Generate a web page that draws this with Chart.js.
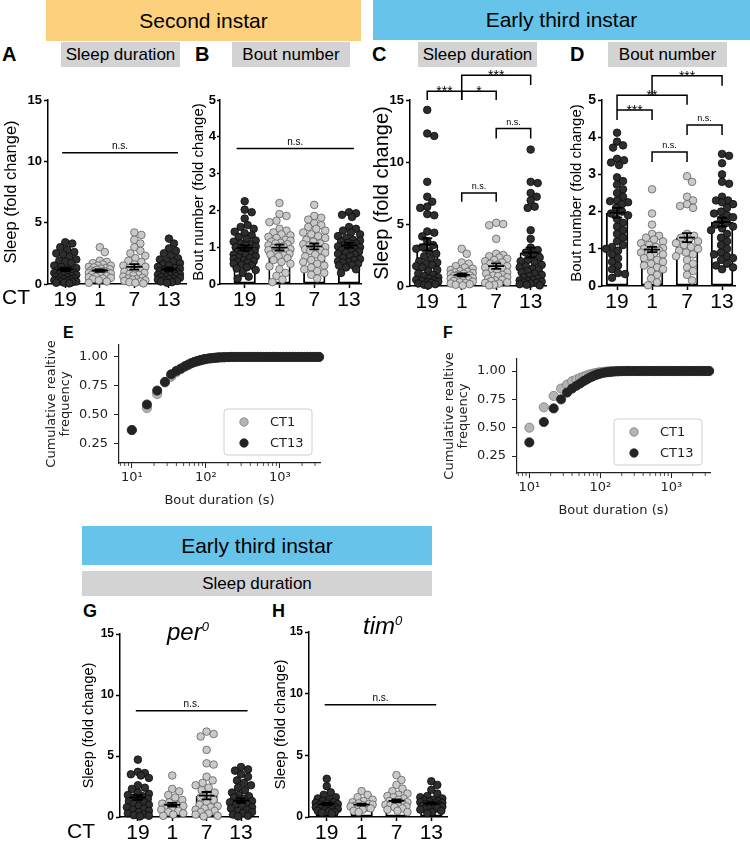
<!DOCTYPE html>
<html>
<head>
<meta charset="utf-8">
<script src="https://cdn.jsdelivr.net/npm/chart.js@4/dist/chart.umd.min.js"></script>
<style>
body { margin: 0; width: 750px; height: 843px; position: relative; background: #fff; overflow: hidden;
       font-family: "Liberation Sans", Arial, sans-serif; color: #000; }
canvas { position: absolute; }
.box { position: absolute; display: flex; align-items: center; justify-content: center; }
.head { font-size: 21px; }
.sub { background: #d3d3d3; font-size: 17px; }
.tag { position: absolute; font-weight: bold; line-height: 1; }
.ct { position: absolute; font-size: 21px; line-height: 1; }
.geno { position: absolute; font-style: italic; font-size: 24px; line-height: 1; }
.geno sup { font-size: 13px; }
</style>
</head>
<body>

<div class="box head" style="left:46px;top:0;width:315px;height:41px;background:#fcd07d">Second instar</div>
<div class="box head" style="left:373px;top:0;width:377px;height:40px;background:#66c3ea">Early third instar</div>
<div class="box sub" style="left:61px;top:42px;width:119px;height:25px">Sleep duration</div>
<div class="box sub" style="left:232px;top:42px;width:118px;height:25px">Bout number</div>
<div class="box sub" style="left:418px;top:42px;width:119px;height:25px">Sleep duration</div>
<div class="box sub" style="left:608px;top:42px;width:119px;height:25px">Bout number</div>
<div class="tag" style="left:2px;top:44px;font-size:20px">A</div>
<div class="tag" style="left:195px;top:44px;font-size:20px">B</div>
<div class="tag" style="left:372px;top:44px;font-size:20px">C</div>
<div class="tag" style="left:570px;top:44px;font-size:20px">D</div>

<canvas id="panelA" width="191" height="248" style="left:0;top:70px"></canvas>
<canvas id="panelB" width="176" height="248" style="left:190px;top:70px"></canvas>
<canvas id="panelC" width="183" height="280" style="left:368px;top:40px"></canvas>
<canvas id="panelD" width="175" height="280" style="left:566px;top:40px"></canvas>
<div class="ct" style="left:2px;top:286px">CT</div>

<div class="tag" style="left:63px;top:325px;font-size:16px">E</div>
<div class="tag" style="left:443px;top:325px;font-size:16px">F</div>
<canvas id="panelE" width="290" height="185" style="left:40px;top:325px"></canvas>
<canvas id="panelF" width="284" height="181" style="left:438px;top:339px"></canvas>

<div class="box head" style="left:82px;top:526px;width:350px;height:39px;background:#66c3ea">Early third instar</div>
<div class="box sub" style="left:82px;top:571px;width:350px;height:25px">Sleep duration</div>
<div class="tag" style="left:83px;top:602px;font-size:18px">G</div>
<div class="tag" style="left:272px;top:602px;font-size:18px">H</div>
<canvas id="panelG" width="185" height="243" style="left:78px;top:600px"></canvas>
<canvas id="panelH" width="183" height="243" style="left:270px;top:600px"></canvas>
<div class="ct" style="left:67px;top:820px">CT</div>
<div class="geno" style="left:167px;top:620px">per<sup>0</sup></div>
<div class="geno" style="left:363px;top:614px">tim<sup>0</sup></div>

<script>
/* global Chart */

const ctLabels = ["19", "1", "7", "13"];

// A: second instar, sleep duration (fold change)
const secondSleepCT19 = [3.4, 3.3, 3.0, 2.8, 2.6, 2.5, 2.4, 2.2, 2.0, 1.9, 1.8, 1.7, 1.5, 1.4, 1.3, 1.2, 1.1, 1.0, 0.95, 0.9, 0.85, 0.8, 0.75, 0.7, 0.65, 0.6, 0.55, 0.5, 0.45, 0.4, 0.35, 0.3, 0.3, 0.25, 0.2, 0.2, 0.15, 0.1, 0.1, 0.05];
const secondSleepCT1 = [3.0, 2.6, 1.9, 1.8, 1.7, 1.6, 1.5, 1.5, 1.4, 1.35, 1.3, 1.25, 1.2, 1.15, 1.1, 1.05, 1.0, 1.0, 0.95, 0.9, 0.9, 0.85, 0.8, 0.75, 0.7, 0.65, 0.6, 0.55, 0.5, 0.45, 0.4, 0.3, 0.2, 0.1];
const secondSleepCT7 = [4.2, 4.0, 3.6, 3.3, 3.0, 2.7, 2.5, 2.3, 2.1, 1.9, 1.8, 1.6, 1.5, 1.4, 1.3, 1.2, 1.1, 1.0, 0.9, 0.8, 0.75, 0.7, 0.6, 0.5, 0.45, 0.4, 0.35, 0.3, 0.25, 0.2, 0.15, 0.1, 0.05];
const secondSleepCT13 = [3.7, 3.3, 2.9, 2.7, 2.5, 2.3, 2.1, 2.0, 1.9, 1.8, 1.7, 1.6, 1.5, 1.4, 1.3, 1.25, 1.2, 1.1, 1.05, 1.0, 0.95, 0.9, 0.85, 0.8, 0.75, 0.7, 0.65, 0.6, 0.55, 0.5, 0.45, 0.4, 0.35, 0.3, 0.25, 0.2, 0.15, 0.1];
const secondSleepMeans = [1.2, 1.1, 1.4, 1.2];
const secondSleepSems = [0.14, 0.1, 0.22, 0.13];

// B: second instar, bout number (fold change)
const secondBoutCT19 = [2.25, 2.02, 1.95, 1.78, 1.6, 1.55, 1.5, 1.42, 1.38, 1.32, 1.28, 1.22, 1.18, 1.15, 1.1, 1.08, 1.05, 1.02, 1.0, 0.98, 0.95, 0.92, 0.9, 0.88, 0.85, 0.82, 0.8, 0.78, 0.75, 0.72, 0.7, 0.68, 0.65, 0.62, 0.6, 0.58, 0.55, 0.52, 0.5, 0.45, 0.42, 0.38, 0.3, 0.2, 0.15];
const secondBoutCT1 = [2.2, 1.9, 1.85, 1.72, 1.68, 1.5, 1.45, 1.4, 1.35, 1.32, 1.28, 1.25, 1.2, 1.18, 1.15, 1.12, 1.1, 1.08, 1.05, 1.02, 1.0, 0.98, 0.95, 0.92, 0.9, 0.88, 0.85, 0.82, 0.8, 0.78, 0.75, 0.7, 0.65, 0.6, 0.55, 0.48, 0.4, 0.3, 0.22, 0.12, 0.05];
const secondBoutCT7 = [2.15, 1.85, 1.8, 1.75, 1.65, 1.6, 1.55, 1.5, 1.45, 1.4, 1.35, 1.3, 1.25, 1.2, 1.15, 1.1, 1.08, 1.05, 1.0, 0.98, 0.95, 0.92, 0.9, 0.85, 0.8, 0.75, 0.7, 0.65, 0.6, 0.55, 0.5, 0.45, 0.4, 0.35, 0.3, 0.25, 0.15];
const secondBoutCT13 = [1.95, 1.92, 1.88, 1.82, 1.55, 1.5, 1.45, 1.4, 1.35, 1.3, 1.25, 1.2, 1.18, 1.15, 1.12, 1.1, 1.08, 1.05, 1.02, 1.0, 0.98, 0.95, 0.92, 0.9, 0.88, 0.85, 0.82, 0.8, 0.75, 0.7, 0.68, 0.65, 0.62, 0.6, 0.58, 0.55, 0.52, 0.5, 0.45, 0.4, 0.3];
const secondBoutMeans = [0.98, 0.99, 1.02, 1.05];
const secondBoutSems = [0.07, 0.08, 0.08, 0.07];

// C: early third instar, sleep duration
const thirdSleepCT19 = [14.2, 12.3, 12.1, 8.4, 7.2, 6.8, 6.4, 6.3, 5.8, 5.7, 4.4, 4.3, 4.0, 3.6, 3.3, 3.1, 3.0, 2.8, 2.6, 2.4, 2.2, 2.0, 1.9, 1.8, 1.7, 1.6, 1.5, 1.3, 1.2, 1.0, 0.9, 0.8, 0.7, 0.6, 0.5, 0.45, 0.4, 0.35, 0.3, 0.25, 0.2, 0.15, 0.1, 0.05];
const thirdSleepCT1 = [3.0, 2.6, 1.9, 1.8, 1.6, 1.5, 1.4, 1.3, 1.2, 1.15, 1.1, 1.05, 1.0, 0.95, 0.9, 0.85, 0.8, 0.75, 0.7, 0.65, 0.6, 0.55, 0.5, 0.45, 0.4, 0.35, 0.3, 0.25, 0.2, 0.15, 0.1, 0.05];
const thirdSleepCT7 = [5.1, 5.0, 4.9, 3.8, 2.6, 2.5, 2.4, 2.3, 2.2, 2.1, 2.0, 1.9, 1.8, 1.7, 1.6, 1.5, 1.4, 1.3, 1.2, 1.1, 1.0, 0.9, 0.85, 0.8, 0.7, 0.6, 0.5, 0.45, 0.4, 0.3, 0.25, 0.2, 0.1, 0.05];
const thirdSleepCT13 = [11.0, 8.4, 8.3, 7.5, 7.2, 6.9, 6.4, 6.3, 4.5, 3.8, 3.1, 2.9, 2.7, 2.5, 2.3, 2.1, 2.0, 1.9, 1.7, 1.6, 1.5, 1.4, 1.3, 1.2, 1.1, 1.0, 0.9, 0.8, 0.7, 0.6, 0.5, 0.45, 0.4, 0.35, 0.3, 0.25, 0.2, 0.15, 0.1, 0.05];
const thirdSleepMeans = [3.35, 0.9, 1.6, 2.7];
const thirdSleepSems = [0.5, 0.12, 0.22, 0.4];

// D: early third instar, bout number
const thirdBoutCT19 = [4.12, 3.88, 3.78, 3.72, 3.42, 3.38, 3.32, 3.25, 2.92, 2.82, 2.72, 2.6, 2.5, 2.4, 2.3, 2.28, 2.25, 2.2, 2.1, 2.0, 1.95, 1.9, 1.8, 1.7, 1.6, 1.5, 1.4, 1.3, 1.2, 1.1, 1.05, 1.0, 0.95, 0.85, 0.75, 0.65, 0.55, 0.45, 0.35, 0.32, 0.22];
const thirdBoutCT1 = [2.6, 1.95, 1.65, 1.4, 1.35, 1.3, 1.25, 1.2, 1.15, 1.1, 1.05, 1.02, 1.0, 0.98, 0.95, 0.92, 0.9, 0.88, 0.85, 0.8, 0.75, 0.7, 0.65, 0.6, 0.55, 0.5, 0.45, 0.4, 0.3, 0.2, 0.1, 0.02];
const thirdBoutCT7 = [2.95, 2.8, 2.4, 2.3, 2.2, 2.15, 2.1, 1.4, 1.35, 1.3, 1.25, 1.2, 1.15, 1.1, 1.05, 1.0, 0.95, 0.9, 0.85, 0.8, 0.7, 0.6, 0.5, 0.4, 0.3, 0.15];
const thirdBoutCT13 = [3.55, 3.5, 3.3, 3.0, 2.8, 2.75, 2.4, 2.3, 2.3, 2.25, 2.2, 2.1, 2.0, 1.95, 1.9, 1.85, 1.8, 1.7, 1.65, 1.6, 1.55, 1.5, 1.4, 1.3, 1.2, 1.1, 1.0, 0.9, 0.85, 0.8, 0.75, 0.7, 0.6, 0.55, 0.5, 0.45];
const thirdBoutMeans = [1.97, 0.98, 1.3, 1.72];
const thirdBoutSems = [0.13, 0.07, 0.12, 0.12];

// G: per0, early third instar sleep
const perSleepCT19 = [4.7, 3.7, 3.6, 3.5, 3.4, 3.2, 2.6, 2.4, 2.3, 2.0, 1.9, 1.8, 1.7, 1.6, 1.5, 1.4, 1.3, 1.2, 1.1, 1.0, 0.9, 0.8, 0.7, 0.6, 0.5, 0.4, 0.3, 0.2, 0.15, 0.1, 0.05];
const perSleepCT1 = [3.4, 2.3, 2.1, 1.8, 1.6, 1.4, 1.2, 1.1, 1.0, 0.9, 0.8, 0.7, 0.6, 0.5, 0.4, 0.3, 0.2, 0.1];
const perSleepCT7 = [7.0, 6.8, 6.6, 5.5, 4.4, 4.3, 3.3, 3.0, 2.8, 2.6, 2.4, 2.2, 2.0, 1.8, 1.6, 1.4, 1.2, 1.0, 0.9, 0.8, 0.7, 0.6, 0.5, 0.4, 0.3, 0.2, 0.1, 0.05];
const perSleepCT13 = [4.1, 3.9, 3.8, 3.5, 3.3, 3.0, 2.8, 2.6, 2.4, 2.2, 2.0, 1.8, 1.7, 1.6, 1.5, 1.4, 1.3, 1.2, 1.1, 1.0, 0.9, 0.8, 0.7, 0.6, 0.5, 0.4, 0.3, 0.2, 0.1, 0.05];
const perSleepMeans = [1.6, 1.0, 1.75, 1.35];
const perSleepSems = [0.2, 0.15, 0.3, 0.18];

// H: tim0, early third instar sleep
const timSleepCT19 = [3.1, 2.5, 2.0, 1.8, 1.6, 1.5, 1.4, 1.3, 1.2, 1.15, 1.1, 1.05, 1.0, 0.95, 0.9, 0.85, 0.8, 0.75, 0.7, 0.65, 0.6, 0.55, 0.5, 0.45, 0.4, 0.35, 0.3];
const timSleepCT1 = [2.1, 1.8, 1.6, 1.4, 1.3, 1.2, 1.1, 1.05, 1.0, 0.95, 0.9, 0.85, 0.8, 0.75, 0.7, 0.6, 0.5, 0.4];
const timSleepCT7 = [3.4, 3.0, 2.6, 2.3, 2.1, 1.9, 1.8, 1.7, 1.6, 1.5, 1.4, 1.3, 1.2, 1.15, 1.1, 1.0, 0.95, 0.9, 0.85, 0.8, 0.7, 0.6, 0.5, 0.4];
const timSleepCT13 = [2.9, 2.6, 2.2, 1.9, 1.7, 1.6, 1.5, 1.4, 1.35, 1.3, 1.25, 1.2, 1.15, 1.1, 1.05, 1.0, 0.95, 0.9, 0.85, 0.8, 0.75, 0.7, 0.65, 0.6, 0.5, 0.4, 0.3];
const timSleepMeans = [1.05, 1.0, 1.3, 1.1];
const timSleepSems = [0.09, 0.08, 0.12, 0.08];

// E, F: cumulative relative frequency of bout durations (s)
const boutDurations = [10, 16, 22, 28, 34, 40, 46, 52, 58, 64, 70, 76, 82, 88, 94, 100, 110, 120, 130, 140,
    150, 165, 180, 200, 220, 240, 260, 290, 320, 350, 380, 420, 460, 500, 550, 600, 660, 720, 790, 860,
    940, 1030, 1130, 1240, 1360, 1490, 1630, 1790, 1960, 2150, 2360, 2590, 2840, 3110, 3400];
const cumulativeE_CT1 = [0.37, 0.56, 0.68, 0.78, 0.83, 0.87, 0.895, 0.915, 0.93, 0.945, 0.955, 0.962, 0.968, 0.973, 0.978, 0.982, 0.986, 0.989, 0.992, 0.994,
    0.996, 0.997, 0.998, 0.999, 1, 1, 1, 1, 1, 1, 1, 1, 1, 1, 1, 1, 1, 1, 1, 1,
    1, 1, 1, 1, 1, 1, 1, 1, 1, 1, 1, 1, 1, 1, 1];
const cumulativeE_CT13 = [0.37, 0.59, 0.71, 0.785, 0.85, 0.88, 0.9, 0.92, 0.935, 0.947, 0.957, 0.964, 0.97, 0.975, 0.98, 0.983, 0.987, 0.99, 0.992, 0.994,
    0.996, 0.997, 0.998, 0.999, 1, 1, 1, 1, 1, 1, 1, 1, 1, 1, 1, 1, 1, 1, 1, 1,
    1, 1, 1, 1, 1, 1, 1, 1, 1, 1, 1, 1, 1, 1, 1];
const cumulativeF_CT1 = [0.5, 0.68, 0.78, 0.845, 0.88, 0.91, 0.925, 0.94, 0.95, 0.96, 0.968, 0.974, 0.979, 0.983, 0.986, 0.989, 0.992, 0.994, 0.996, 0.997,
    0.998, 0.999, 0.999, 1, 1, 1, 1, 1, 1, 1, 1, 1, 1, 1, 1, 1, 1, 1, 1, 1,
    1, 1, 1, 1, 1, 1, 1, 1, 1, 1, 1, 1, 1, 1, 1];
const cumulativeF_CT13 = [0.37, 0.55, 0.67, 0.75, 0.81, 0.845, 0.87, 0.89, 0.91, 0.925, 0.94, 0.95, 0.96, 0.967, 0.973, 0.978, 0.984, 0.988, 0.991, 0.993,
    0.995, 0.997, 0.998, 0.999, 1, 1, 1, 1, 1, 1, 1, 1, 1, 1, 1, 1, 1, 1, 1, 1,
    1, 1, 1, 1, 1, 1, 1, 1, 1, 1, 1, 1, 1, 1, 1];

const SANS = "'Liberation Sans', Arial, sans-serif",
    MPL = "'DejaVu Sans', sans-serif",
    DARK_GROUPS = [true, false, false, true],
    DARK_FILL = "#2e2e2e",
    DARK_EDGE = "#0a0a0a",
    LIGHT_FILL = "#c9c9c9",
    LIGHT_EDGE = "#5e5e5e",
    DOT_RADIUS = 3.8,
    DOT_SPREAD = 11,
    CT1_FILL = "#b5b5b5",
    CT1_EDGE = "#7a7a7a",
    CT13_FILL = "#232323",
    POWERS = {10: "10\u00b9", 100: "10\u00b2", 1000: "10\u00b3"};

const errorBarPlugin = {
    id: "errorBars",
    afterDatasetsDraw(chart, args, opts) {
        const {ctx, scales: {x, y}} = chart;
        ctx.save();
        ctx.strokeStyle = "#000";
        ctx.lineWidth = 1.8;
        opts.means.forEach((m, i) => {
            const px = x.getPixelForValue(i + 1),
                top = y.getPixelForValue(m + opts.sems[i]),
                bot = y.getPixelForValue(Math.max(0, m - opts.sems[i])),
                mid = y.getPixelForValue(m);
            ctx.beginPath();
            ctx.moveTo(px, top); ctx.lineTo(px, bot);
            ctx.moveTo(px - 5, top); ctx.lineTo(px + 5, top);
            ctx.moveTo(px - 5, bot); ctx.lineTo(px + 5, bot);
            ctx.moveTo(px - 8, mid); ctx.lineTo(px + 8, mid);
            ctx.stroke();
        });
        ctx.restore();
    },
};

const bracketPlugin = {
    id: "brackets",
    afterDraw(chart, args, opts) {
        const {ctx, scales: {x, y}} = chart;
        ctx.save();
        ctx.strokeStyle = "#000";
        ctx.fillStyle = "#000";
        ctx.lineWidth = 1.5;
        ctx.textAlign = "center";
        ctx.textBaseline = "alphabetic";
        (opts.items || []).forEach((b) => {
            const x1 = x.getPixelForValue(b.from),
                x2 = x.getPixelForValue(b.to),
                yy = y.getPixelForValue(b.at);
            ctx.beginPath();
            ctx.moveTo(x1, b.drop1 === undefined ? yy : y.getPixelForValue(b.drop1));
            ctx.lineTo(x1, yy);
            ctx.lineTo(x2, yy);
            ctx.lineTo(x2, b.drop2 === undefined ? yy : y.getPixelForValue(b.drop2));
            ctx.stroke();
            if (b.text.indexOf("*") >= 0) {
                ctx.font = "14px " + SANS;
                ctx.fillText(b.text, (x1 + x2) / 2, yy + 5);
            } else {
                ctx.font = (opts.small ? 9 : 10) + "px " + SANS;
                ctx.fillText(b.text, (x1 + x2) / 2, yy - 4);
            }
        });
        ctx.restore();
    },
};

// beeswarm-like spread of the dots, computed in pixel space
function spreadDots(chart) {
    const xs = chart.scales.x, ys = chart.scales.y;
    const unit = xs.getPixelForValue(2) - xs.getPixelForValue(1);
    const minGap = DOT_RADIUS * 2 * 0.92;
    chart.data.datasets.forEach((ds) => {
        if (ds.type !== "scatter") {
            return;
        }
        const center = ds.data[0].x;
        const pts = ds.data.map((p) => ({v: p.y, py: ys.getPixelForValue(p.y)}))
            .sort((a, b) => a.py - b.py);
        const placed = [];
        pts.forEach((p) => {
            let best = 0, bestDist = -1;
            for (let k = 0; k <= 2 * DOT_SPREAD; k++) {
                const off = k % 2 ? (k + 1) / 2 : -k / 2;
                let nearest = Infinity;
                placed.forEach((q) => {
                    const d = Math.hypot(q.off - off, q.py - p.py);
                    if (d < nearest) {
                        nearest = d;
                    }
                });
                if (nearest >= minGap) {
                    best = off;
                    break;
                }
                if (nearest > bestDist) {
                    bestDist = nearest;
                    best = off;
                }
            }
            placed.push({off: best, py: p.py, v: p.v});
        });
        ds.data = placed.map((q) => ({x: center + q.off / unit, y: q.v}));
    });
    chart.update();
}

function createDotChart(id, cfg) {
    const datasets = [{
        type: "bar",
        data: cfg.means.map((m, i) => ({x: i + 1, y: m})),
        backgroundColor: "#ffffff",
        borderColor: "#000000",
        borderWidth: 2,
        borderSkipped: false,
        barPercentage: 0.64,
        categoryPercentage: 1,
        order: 3,
    }];
    cfg.groups.forEach((values, i) => {
        const dark = DARK_GROUPS[i];
        datasets.push({
            type: "scatter",
            data: values.map((v) => ({x: i + 1, y: v})),
            pointRadius: DOT_RADIUS,
            pointBackgroundColor: dark ? DARK_FILL : LIGHT_FILL,
            pointBorderColor: dark ? DARK_EDGE : LIGHT_EDGE,
            pointBorderWidth: 0.8,
            order: 1,
            clip: false,
        });
    });
    const chart = new Chart(document.getElementById(id), {
        type: "scatter",
        data: {datasets: datasets},
        options: {
            responsive: false,
            animation: false,
            events: [],
            layout: {padding: {top: cfg.padTop, right: cfg.padRight, left: 0, bottom: 0}},
            plugins: {
                legend: {display: false},
                tooltip: {enabled: false},
                errorBars: {means: cfg.means, sems: cfg.sems},
                brackets: {items: cfg.brackets, small: cfg.smallText},
            },
            scales: {
                x: {
                    type: "linear",
                    min: cfg.xMin,
                    max: cfg.xMax,
                    offset: false,
                    afterBuildTicks: (axis) => {
                        axis.ticks = ctLabels.map((l, i) => ({value: i + 1}));
                    },
                    afterFit: (axis) => {
                        axis.height = cfg.xAxisHeight;
                    },
                    ticks: {
                        callback: (v) => ctLabels[v - 1],
                        font: {family: SANS, size: 21},
                        color: "#000",
                        padding: 0,
                        autoSkip: false,
                        maxRotation: 0,
                    },
                    grid: {drawOnChartArea: false, offset: false, tickLength: 4, tickColor: "#000", tickWidth: 1.5},
                    border: {display: true, color: "#000", width: 1.5},
                },
                y: {
                    type: "linear",
                    min: 0,
                    max: cfg.yMax,
                    afterFit: (axis) => {
                        axis.width = cfg.yAxisWidth;
                    },
                    ticks: {
                        stepSize: cfg.yStep,
                        font: {family: SANS, size: cfg.tickSize, weight: "bold"},
                        color: "#000",
                        padding: cfg.tickPad === undefined ? 2 : cfg.tickPad,
                    },
                    grid: {drawOnChartArea: false, tickLength: cfg.tickLen || 4, tickColor: "#000", tickWidth: 1.5},
                    border: {display: true, color: "#000", width: 1.5},
                    title: {
                        display: true,
                        text: cfg.yTitle,
                        font: {family: SANS, size: cfg.titleSize},
                        color: "#000",
                        padding: {top: cfg.titlePad === undefined ? 2 : cfg.titlePad, bottom: 0},
                    },
                },
            },
        },
        plugins: [errorBarPlugin, bracketPlugin],
    });
    spreadDots(chart);
    return chart;
}

const minorTickPlugin = {
    id: "minorTicks",
    afterDraw(chart) {
        const {ctx, chartArea, scales: {x}} = chart;
        ctx.save();
        ctx.strokeStyle = "#222";
        ctx.lineWidth = 0.8;
        ctx.beginPath();
        [1, 10, 100, 1000].forEach((decade) => {
            for (let m = 2; m <= 9; m++) {
                const v = m * decade;
                if (v < x.min || v > x.max) {
                    continue;
                }
                const px = x.getPixelForValue(v);
                ctx.moveTo(px, chartArea.bottom);
                ctx.lineTo(px, chartArea.bottom + 3);
            }
        });
        ctx.stroke();
        ctx.restore();
    },
};

const legendBoxPlugin = {
    id: "legendBox",
    afterDraw(chart) {
        const {ctx, chartArea} = chart;
        const w = 88, h = 46, left = chartArea.right - 8 - w, top = chartArea.bottom - 8 - h;
        ctx.save();
        ctx.fillStyle = "rgba(255,255,255,0.85)";
        ctx.strokeStyle = "#d0d0d0";
        ctx.lineWidth = 1;
        ctx.beginPath();
        ctx.roundRect(left, top, w, h, 3);
        ctx.fill();
        ctx.stroke();
        ctx.font = "13px " + MPL;
        ctx.textBaseline = "middle";
        chart.data.datasets.forEach((ds, i) => {
            const cy = top + 13 + i * 21;
            ctx.beginPath();
            ctx.arc(left + 20, cy, 4.2, 0, Math.PI * 2);
            ctx.fillStyle = ds.pointBackgroundColor;
            ctx.fill();
            ctx.strokeStyle = ds.pointBorderColor;
            ctx.lineWidth = 0.8;
            ctx.stroke();
            ctx.fillStyle = "#222";
            ctx.fillText(ds.label, left + 46, cy + 1);
        });
        ctx.restore();
    },
};

function createCumulativeChart(id, cfg) {
    return new Chart(document.getElementById(id), {
        type: "scatter",
        data: {
            datasets: [{
                label: "CT1",
                data: boutDurations.map((d, i) => ({x: d, y: cfg.ct1[i]})),
                pointRadius: 4.6,
                pointBackgroundColor: CT1_FILL,
                pointBorderColor: CT1_EDGE,
                pointBorderWidth: 0.8,
                order: 2,
                clip: false,
            }, {
                label: "CT13",
                data: boutDurations.map((d, i) => ({x: d, y: cfg.ct13[i]})),
                pointRadius: 4.6,
                pointBackgroundColor: CT13_FILL,
                pointBorderColor: CT13_FILL,
                pointBorderWidth: 0.8,
                order: 1,
                clip: false,
            }],
        },
        options: {
            responsive: false,
            animation: false,
            events: [],
            layout: {padding: {top: cfg.padTop, right: cfg.padRight, left: 0, bottom: 0}},
            plugins: {legend: {display: false}, tooltip: {enabled: false}},
            scales: {
                x: {
                    type: "logarithmic",
                    min: 6.7,
                    max: 3500,
                    afterBuildTicks: (axis) => {
                        axis.ticks = [10, 100, 1000].map((v) => ({value: v}));
                    },
                    afterFit: (axis) => {
                        axis.height = 47;
                    },
                    ticks: {
                        callback: (v) => POWERS[v],
                        font: {family: MPL, size: 13},
                        color: "#222",
                        padding: 2,
                        autoSkip: false,
                        maxRotation: 0,
                    },
                    grid: {drawOnChartArea: false, tickLength: 5, tickColor: "#222", tickWidth: 1},
                    border: {display: true, color: "#222", width: 1.2},
                    title: {
                        display: true,
                        text: "Bout duration (s)",
                        font: {family: MPL, size: 13},
                        color: "#222",
                        padding: {top: 0, bottom: 2},
                    },
                },
                y: {
                    type: "linear",
                    min: cfg.yMin,
                    max: cfg.yMax,
                    afterBuildTicks: (axis) => {
                        axis.ticks = [0.25, 0.5, 0.75, 1].map((v) => ({value: v}));
                    },
                    afterFit: (axis) => {
                        axis.width = 79;
                    },
                    ticks: {
                        callback: (v) => v.toFixed(2),
                        font: {family: MPL, size: 13},
                        color: "#222",
                        padding: 6,
                    },
                    grid: {drawOnChartArea: false, tickLength: 5, tickColor: "#222", tickWidth: 1},
                    border: {display: true, color: "#222", width: 1.2},
                    title: {
                        display: true,
                        text: ["Cumulative realtive", "frequency"],
                        font: {family: MPL, size: 13, lineHeight: 1.05},
                        color: "#222",
                        padding: {top: 5, bottom: 0},
                    },
                },
            },
        },
        plugins: [minorTickPlugin, legendBoxPlugin],
    });
}

createDotChart("panelA", {
    groups: [secondSleepCT19, secondSleepCT1, secondSleepCT7, secondSleepCT13],
    means: secondSleepMeans, sems: secondSleepSems,
    yMax: 15, yStep: 5, tickSize: 13, yTitle: "Sleep (fold change)", titleSize: 16.5,
    yAxisWidth: 48, padTop: 30, padRight: 4, xAxisHeight: 34, xMin: 0.5, xMax: 4.5,
    brackets: [{from: 0.91, to: 4.26, at: 10.7, text: "n.s."}],
});

createDotChart("panelB", {
    groups: [secondBoutCT19, secondBoutCT1, secondBoutCT7, secondBoutCT13],
    means: secondBoutMeans, sems: secondBoutSems,
    yMax: 5, yStep: 1, tickSize: 13, yTitle: "Bout number (fold change)", titleSize: 15,
    yAxisWidth: 30, padTop: 30, padRight: 4, xAxisHeight: 34, xMin: 0.29, xMax: 4.35,
    tickLen: 3, tickPad: 1, titlePad: 0,
    brackets: [{from: 0.77, to: 4.14, at: 3.68, text: "n.s."}],
});

createDotChart("panelC", {
    groups: [thirdSleepCT19, thirdSleepCT1, thirdSleepCT7, thirdSleepCT13],
    means: thirdSleepMeans, sems: thirdSleepSems,
    yMax: 15, yStep: 5, tickSize: 13, yTitle: "Sleep (fold change)", titleSize: 20,
    yAxisWidth: 42, padTop: 60, padRight: 4, xAxisHeight: 34, xMin: 0.5, xMax: 4.45,
    smallText: true,
    brackets: [
        {from: 1, to: 2, at: 15.7, drop1: 15.0, drop2: 15.0, text: "***"},
        {from: 2, to: 3, at: 15.7, drop1: 15.0, drop2: 15.0, text: "*"},
        {from: 2, to: 4, at: 17.0, drop1: 15.7, drop2: 16.2, text: "***"},
        {from: 3, to: 4, at: 12.7, drop1: 11.9, drop2: 11.9, text: "n.s."},
        {from: 2, to: 3, at: 7.5, drop1: 6.8, drop2: 6.8, text: "n.s."},
    ],
});

createDotChart("panelD", {
    groups: [thirdBoutCT19, thirdBoutCT1, thirdBoutCT7, thirdBoutCT13],
    means: thirdBoutMeans, sems: thirdBoutSems,
    yMax: 5, yStep: 1, tickSize: 14, yTitle: "Bout number (fold change)", titleSize: 15,
    yAxisWidth: 36, padTop: 60, padRight: 6, xAxisHeight: 34, xMin: 0.57, xMax: 4.37,
    smallText: true,
    brackets: [
        {from: 1, to: 2, at: 4.73, drop1: 4.46, drop2: 4.46, text: "***"},
        {from: 1, to: 3, at: 5.13, drop1: 4.73, drop2: 4.87, text: "**"},
        {from: 2, to: 4, at: 5.65, drop1: 5.13, drop2: 5.38, text: "***"},
        {from: 3, to: 4, at: 4.33, drop1: 4.06, drop2: 4.06, text: "n.s."},
        {from: 2, to: 3, at: 3.6, drop1: 3.33, drop2: 3.33, text: "n.s."},
    ],
});

createDotChart("panelG", {
    groups: [perSleepCT19, perSleepCT1, perSleepCT7, perSleepCT13],
    means: perSleepMeans, sems: perSleepSems,
    yMax: 15, yStep: 5, tickSize: 12, yTitle: "Sleep (fold change)", titleSize: 14.5,
    yAxisWidth: 42, padTop: 34, padRight: 4, xAxisHeight: 26, xMin: 0.48, xMax: 4.5,
    brackets: [{from: 0.94, to: 4.19, at: 8.7, text: "n.s."}],
});

createDotChart("panelH", {
    groups: [timSleepCT19, timSleepCT1, timSleepCT7, timSleepCT13],
    means: timSleepMeans, sems: timSleepSems,
    yMax: 15, yStep: 5, tickSize: 12, yTitle: "Sleep (fold change)", titleSize: 15,
    yAxisWidth: 39, padTop: 32, padRight: 6, xAxisHeight: 26, xMin: 0.49, xMax: 4.45,
    brackets: [{from: 0.94, to: 4.14, at: 9.1, text: "n.s."}],
});

createCumulativeChart("panelE", {
    ct1: cumulativeE_CT1, ct13: cumulativeE_CT13,
    yMin: 0.086, yMax: 1.103, padTop: 20, padRight: 10,
});

createCumulativeChart("panelF", {
    ct1: cumulativeF_CT1, ct13: cumulativeF_CT13,
    yMin: 0.10, yMax: 1.106, padTop: 20, padRight: 12,
});
</script>
</body>
</html>
